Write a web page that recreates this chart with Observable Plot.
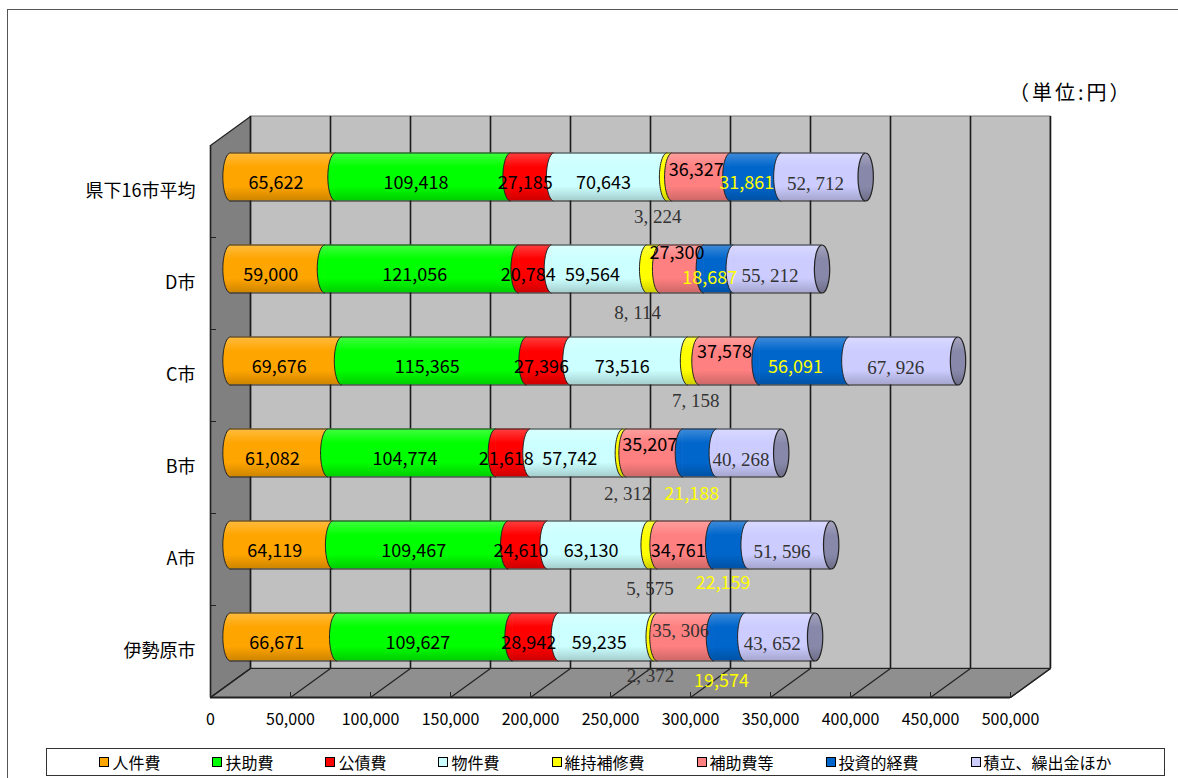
<!DOCTYPE html>
<html><head><meta charset="utf-8">
<script src="https://cdn.jsdelivr.net/npm/d3@7"></script>
<script src="https://cdn.jsdelivr.net/npm/@observablehq/plot@0.6"></script>
<style>
html,body{margin:0;padding:0;background:#fff;overflow:hidden}
#wrap{position:relative;width:1178px;height:778px;overflow:hidden;font-family:'Noto Sans CJK JP',sans-serif}
#frame{position:absolute;left:7px;top:9px;width:1300px;height:900px;border:1.5px solid #555;box-sizing:border-box}
#chart{position:absolute;left:0;top:0}
#unit{position:absolute;left:1009px;top:79px;font-size:20px;line-height:26px;letter-spacing:3px;color:#000;white-space:nowrap}
#legend{position:absolute;left:46px;top:748px;width:1119px;height:28px;border:1px solid #333;box-sizing:border-box;background:#fff;display:flex;align-items:center;justify-content:center;gap:52px;font-size:16px;color:#000}
#legend span.item{display:inline-flex;align-items:center;white-space:nowrap}
#legend i{display:inline-block;width:8px;height:8px;border:1.5px solid #000;margin-right:3px}
</style></head>
<body><div id="wrap"><div id="frame"></div><div id="chart"></div><div id="unit"></div><div id="legend"></div></div>
<script>
// ---- data ----
const categories = ["県下16市平均", "D市", "C市", "B市", "A市", "伊勢原市"];
const seriesNames = ["人件費", "扶助費", "公債費", "物件費", "維持補修費", "補助費等", "投資的経費", "積立、繰出金ほか"];
const jinkenhi   = [65622, 59000, 69676, 61082, 64119, 66671];
const fujohi     = [109418, 121056, 115365, 104774, 109467, 109627];
const kousaihi   = [27185, 20784, 27396, 21618, 24610, 28942];
const bukkenhi   = [70643, 59564, 73516, 57742, 63130, 59235];
const ijihoshuhi = [3224, 8114, 7158, 2312, 5575, 2372];
const hojohi     = [36327, 27300, 37578, 35207, 34761, 35306];
const toushiteki = [31861, 18687, 56091, 21188, 22159, 19574];
const tsumitate  = [52712, 55212, 67926, 40268, 51596, 43652];
const xTicks = [0, 50000, 100000, 150000, 200000, 250000, 300000, 350000, 400000, 450000, 500000];
const unitLabel = "（単位:円）";

// ---- styles / layout ----
const seriesColors = ["#ffa500", "#00ff00", "#ff0000", "#ccffff", "#ffff00", "#ff8080", "#0066cc", "#ccccff"];
const endCapColor = "#8888aa";
const W = 1178, H = 740;
const FRONT_LEFT = 210, FRONT_RIGHT = 1010, FRONT_TOP = 145, FRONT_BOTTOM = 697;
const DEPTH_X = 40, DEPTH_Y = 29, BAR_PX = 48;
const X_MAX = 500000, ROWS = categories.length;
const unitsPerPx = X_MAX / (FRONT_RIGHT - FRONT_LEFT);
const rowsPerPx = ROWS / (FRONT_BOTTOM - FRONT_TOP);
const depthXU = DEPTH_X * unitsPerPx, depthYR = DEPTH_Y * rowsPerPx;
const halfRows = (BAR_PX / 2) * rowsPerPx;
const BDX = DEPTH_X / 2, BDY = -DEPTH_Y / 2;

// label placement (layout only): per-category pixel nudges
const raisedHojo = {"県下16市平均": -6.5, "D市": -16, "C市": -8.5, "B市": -7.5, "伊勢原市": -6.5};
const serifHojo = ["伊勢原市"];
const investBelow = ["B市", "A市", "伊勢原市"];
const investNudgeY = {"D市": 9};
const belowNudgeX = {"県下16市平均": -12, "D市": -16, "C市": 2, "B市": 3, "A市": -3, "伊勢原市": -5};
const belowNudgeY = {"県下16市平均": 39.5, "D市": 43.5, "C市": 39.5, "B市": 40.5, "A市": 43.5, "伊勢原市": 38.5};
const investBelowNudgeY = {"B市": 41.5, "A市": 38.5, "伊勢原市": 44};

document.getElementById("unit").textContent = unitLabel;

const values = [jinkenhi, fujohi, kousaihi, bukkenhi, ijihoshuhi, hojohi, toushiteki, tsumitate];
const segments = [];
categories.forEach((c, i) => {
  let acc = 0;
  values.forEach((arr, s) => {
    const v = arr[i];
    segments.push({cat: c, row: i, s, v, x1: acc, x2: acc + v});
    acc += v;
  });
});
const totals = categories.map((c, i) => ({cat: c, row: i, total: values.reduce((a, arr) => a + arr[i], 0)}));

// cap symbols
const K = 0.5523, RXF = 0.32;
const leftHalf = {draw(ctx, size) {
  const ry = Math.sqrt(size / Math.PI), rx = ry * RXF;
  ctx.moveTo(0, -ry);
  ctx.bezierCurveTo(-K * rx, -ry, -rx, -K * ry, -rx, 0);
  ctx.bezierCurveTo(-rx, K * ry, -K * rx, ry, 0, ry);
}};
const fullEllipse = {draw(ctx, size) {
  const ry = Math.sqrt(size / Math.PI), rx = ry * RXF;
  ctx.moveTo(rx, 0);
  ctx.bezierCurveTo(rx, K * ry, K * rx, ry, 0, ry);
  ctx.bezierCurveTo(-K * rx, ry, -rx, K * ry, -rx, 0);
  ctx.bezierCurveTo(-rx, -K * ry, -K * rx, -ry, 0, -ry);
  ctx.bezierCurveTo(K * rx, -ry, rx, -K * ry, rx, 0);
  ctx.closePath();
}};

function defsMark() {
  const ns = "http://www.w3.org/2000/svg";
  const defs = document.createElementNS(ns, "defs");
  const all = seriesColors.map((c, i) => ["grad" + i, c]).concat([["gradEnd", endCapColor]]);
  for (const [id, base] of all) {
    const g = document.createElementNS(ns, "linearGradient");
    g.setAttribute("id", id);
    g.setAttribute("x1", "0"); g.setAttribute("y1", "0");
    g.setAttribute("x2", "0"); g.setAttribute("y2", "1");
    const stops = [
      [0, d3.interpolateRgb(base, "#ffffff")(0.25)],
      [0.3, base],
      [0.7, base],
      [1, d3.color(base).darker(0.6).formatHex()]
    ];
    for (const [o, col] of stops) {
      const st = document.createElementNS(ns, "stop");
      st.setAttribute("offset", o);
      st.setAttribute("stop-color", col);
      g.appendChild(st);
    }
    defs.appendChild(g);
  }
  return defs;
}

const fmt = d3.format(",");
const fmtSerif = v => fmt(v).replace(/,/g, ", ");
const SANS = "'Noto Sans CJK JP', sans-serif";
const SERIF = "'Liberation Serif', 'DejaVu Serif', serif";

// label classification
const labels = segments.map(d => {
  const name = seriesNames[d.s];
  let font = "sans", color = "#000", ox = -7, oy = 6.5;
  if (name === "維持補修費") {
    font = "serif"; color = "#333"; ox = belowNudgeX[d.cat]; oy = belowNudgeY[d.cat];
  } else if (name === "積立、繰出金ほか") {
    font = "serif"; color = "#333"; ox = -8;
  } else if (name === "補助費等") {
    if (d.cat in raisedHojo) { oy = raisedHojo[d.cat]; ox = -5; }
    if (serifHojo.includes(d.cat)) { font = "serif"; color = "#333"; }
  } else if (name === "投資的経費") {
    color = "#ffff00"; ox = -9;
    if (d.cat in investNudgeY) oy = investNudgeY[d.cat];
    if (investBelow.includes(d.cat)) { oy = investBelowNudgeY[d.cat]; ox = -8; }
  }
  return {...d, mid: (d.x1 + d.x2) / 2, font, color, ox, oy};
});
const labelMarks = labels.map(d => Plot.text([d], {
  x: "mid", y: e => e.row + 0.5,
  text: e => e.font === "serif" ? fmtSerif(e.v) : fmt(e.v),
  dx: BDX + d.ox, dy: BDY + d.oy,
  fill: d.color,
  fontFamily: d.font === "serif" ? SERIF : SANS,
  fontSize: d.font === "serif" ? 19 : 18
}));

const sideWall = [{x: 0, y: 0}, {x: 0, y: ROWS}, {x: depthXU, y: ROWS - depthYR}, {x: depthXU, y: -depthYR}, {x: 0, y: 0}];
const floor = [{x: 0, y: ROWS}, {x: X_MAX, y: ROWS}, {x: X_MAX + depthXU, y: ROWS - depthYR}, {x: depthXU, y: ROWS - depthYR}, {x: 0, y: ROWS}];

const barMarks = [];
seriesColors.forEach((c, s) => {
  barMarks.push(Plot.rect(segments.filter(d => d.s === s), {
    x1: "x1", x2: "x2",
    y1: d => d.row + 0.5 - halfRows, y2: d => d.row + 0.5 + halfRows,
    dx: BDX, dy: BDY, fill: `url(#grad${s})`
  }));
});
barMarks.push(Plot.ruleY(totals, {y: d => d.row + 0.5 - halfRows, x1: 0, x2: "total", dx: BDX, dy: BDY, stroke: "#222", strokeWidth: 1}));
barMarks.push(Plot.ruleY(totals, {y: d => d.row + 0.5 + halfRows, x1: 0, x2: "total", dx: BDX, dy: BDY, stroke: "#222", strokeWidth: 1}));
seriesColors.forEach((c, s) => {
  barMarks.push(Plot.dot(segments.filter(d => d.s === s), {
    x: "x1", y: d => d.row + 0.5, r: BAR_PX / 2, symbol: leftHalf,
    dx: BDX, dy: BDY, fill: `url(#grad${s})`, stroke: "#222", strokeWidth: 1
  }));
});
barMarks.push(Plot.dot(totals, {
  x: "total", y: d => d.row + 0.5, r: BAR_PX / 2, symbol: fullEllipse,
  dx: BDX, dy: BDY, fill: "url(#gradEnd)", stroke: "#222", strokeWidth: 1.2
}));

const chart = Plot.plot({
  width: W, height: H,
  marginLeft: FRONT_LEFT, marginRight: W - FRONT_RIGHT,
  marginTop: FRONT_TOP, marginBottom: H - FRONT_BOTTOM,
  x: {domain: [0, X_MAX], axis: null},
  y: {domain: [0, ROWS], reverse: true, axis: null},
  style: {fontFamily: SANS, fontSize: "16px", background: "transparent", color: "#000", overflow: "visible"},
  marks: [
    defsMark,
    // back wall
    Plot.rect([0], {x1: 0, x2: X_MAX, y1: 0, y2: ROWS, dx: DEPTH_X, dy: -DEPTH_Y, fill: "#c0c0c0", stroke: "#777", strokeWidth: 1}),
    // side wall and floor
    Plot.line(sideWall, {x: "x", y: "y", fill: "#808080", stroke: "#222", strokeWidth: 1.2}),
    Plot.line(floor, {x: "x", y: "y", fill: "#8f8f8f", stroke: "#222", strokeWidth: 1.2}),
    Plot.link(xTicks, {x1: d => d, y1: ROWS, x2: d => d + depthXU, y2: ROWS - depthYR, stroke: "#222", strokeWidth: 1.2}),
    Plot.ruleX(xTicks, {x: d => d, y1: ROWS, y2: ROWS - 5 * rowsPerPx, stroke: "#222", strokeWidth: 1}),
    Plot.ruleY([ROWS], {x1: 0, x2: X_MAX, stroke: "#222", strokeWidth: 2}),
    // back wall grid
    Plot.ruleX(xTicks, {x: d => d, y1: 0, y2: ROWS, dx: DEPTH_X, dy: -DEPTH_Y, stroke: "#1a1a1a", strokeWidth: 1.6}),
    // side wall ticks
    Plot.ruleY(d3.range(1, ROWS), {y: d => d, x1: 0, x2: 6 * unitsPerPx, stroke: "#222", strokeWidth: 1}),
    Plot.ruleX([0], {y1: 0, y2: ROWS, stroke: "#222", strokeWidth: 1.5}),
    ...barMarks,
    ...labelMarks,
    // category labels
    Plot.text(categories, {x: 0, y: (d, i) => i + 0.5, text: d => d, textAnchor: "end", dx: -15, fontSize: 18, fill: "#000"}),
    // x tick labels
    Plot.text(xTicks, {x: d => d, y: ROWS, dy: 22, text: d => fmt(d), fontSize: 16, fill: "#000"})
  ]
});
document.getElementById("chart").appendChild(chart);

// legend
const legend = document.getElementById("legend");
seriesNames.forEach((n, i) => {
  const it = document.createElement("span");
  it.className = "item";
  const sw = document.createElement("i");
  sw.style.background = seriesColors[i];
  it.appendChild(sw);
  it.appendChild(document.createTextNode(n));
  legend.appendChild(it);
});
</script>
</body></html>
